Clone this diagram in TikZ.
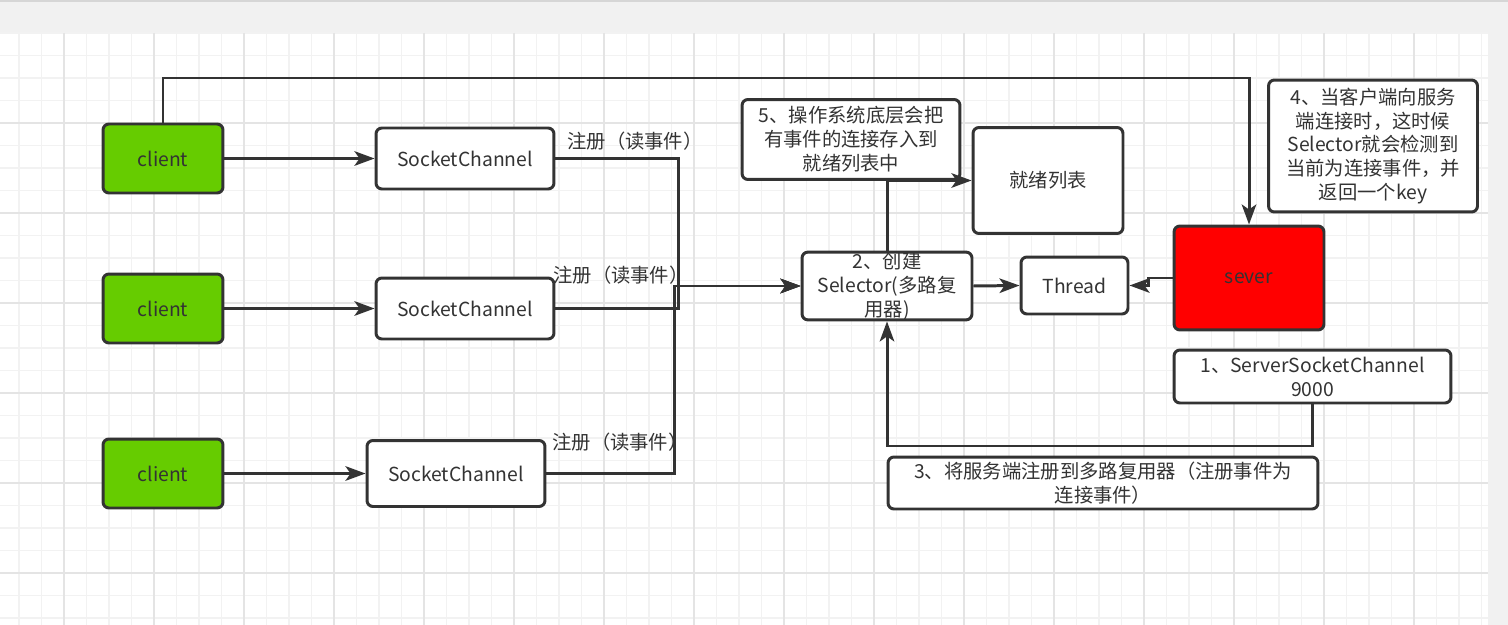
\documentclass[tikz,border=0pt]{standalone}
\usepackage{fontspec}
\setmainfont{Noto Sans CJK SC}
\usepackage{xcolor}
\usepackage{tikz}
\usetikzlibrary{arrows.meta}
\usetikzlibrary{calc}
\usetikzlibrary{positioning}

\definecolor{linec}{HTML}{333333}
\definecolor{cgreen}{HTML}{66CC00}
\definecolor{sred}{HTML}{FF0000}
\definecolor{gridmin}{HTML}{F2F2F2}
\definecolor{gridmaj}{HTML}{E4E4E4}
\definecolor{pagegray}{HTML}{F1F1F1}
\definecolor{topline}{HTML}{D6D6D6}
\newcommand{\dfont}{\fontsize{11pt}{13.6pt}\selectfont}

\begin{document}
\begin{tikzpicture}[x=0.02cm, y=-0.02cm,
    box/.style={draw=linec, line width=1.7pt, rounded corners=3.4pt, fill=white,
                text=linec, font=\dfont, align=center, inner sep=0pt},
    client/.style={box, fill=cgreen, minimum width=2.4cm, minimum height=1.38cm},
    chan/.style={box, minimum width=3.56cm, minimum height=1.22cm},
    flow/.style={draw=linec, line width=1.7pt,
                 -{Stealth[length=4mm, width=2.9mm, inset=1mm]}},
    lbl/.style={text=linec, font=\dfont, anchor=west, inner sep=0pt},
    gmin/.style={draw=gridmin, line width=0.6pt},
    gmaj/.style={draw=gridmaj, line width=0.6pt}]

  \useasboundingbox (0,0) rectangle (1508,625);
  \fill[pagegray] (0,0) rectangle (1508,625);
  \fill[topline] (0,0) rectangle (1508,2);
  \fill[white] (0,33) rectangle (1488,625);
  \foreach \gx in {19,41.5,...,1487}
    \draw[gmin] (\gx,33) -- (\gx,625);
  \foreach \gy in {33,55.5,...,625}
    \draw[gmin] (0,\gy) -- (1488,\gy);
  \foreach \gx in {64,154,...,1487}
    \draw[gmaj] (\gx,33) -- (\gx,625);
  \foreach \gy in {123,213,...,625}
    \draw[gmaj] (0,\gy) -- (1488,\gy);

  \draw (163,158.5)  node[client]                                    (c1) {client};
  \draw (163,308.5)  node[client]                                    (c2) {client};
  \draw (163,473.5)  node[client]                                    (c3) {client};
  \draw (465,158.5)  node[chan]                                      (sc1) {SocketChannel};
  \draw (465,308.5)  node[chan]                                      (sc2) {SocketChannel};
  \draw (456,473.5)  node[chan, minimum height=1.32cm]               (sc3) {SocketChannel};
  \draw (887,286)    node[box, minimum width=3.4cm, minimum height=1.32cm]  (sel) {2、创建\\Selector(多路复\\用器)};
  \draw (851,139.5)  node[box, minimum width=4.36cm, minimum height=1.6cm]  (n5) {5、操作系统底层会把\\有事件的连接存入到\\就绪列表中};
  \draw (1048,180.5) node[box, minimum width=3cm, minimum height=2.12cm]    (ready) {就绪列表};
  \draw (1074.5,285.5) node[box, minimum width=2.14cm, minimum height=1.14cm] (thr) {Thread};
  \draw (1249,278)   node[box, fill=sred, minimum width=3cm, minimum height=2.08cm] (sv) {sever};
  \draw (1373,146)   node[box, minimum width=4.18cm, minimum height=2.64cm] (n4) {4、当客户端向服务\\端连接时，这时候\\Selector就会检测到\\当前为连接事件，并\\返回一个key};
  \draw (1312.5,376.5) node[box, minimum width=5.54cm, minimum height=1.06cm] (ssc) {1、ServerSocketChannel\\9000};
  \draw (1103,483)   node[box, minimum width=8.6cm, minimum height=1.04cm]  (n3) {3、将服务端注册到多路复用器（注册事件为\\连接事件）};

  \draw (567,141) node[lbl] (l1) {注册（读事件）};
  \draw (553,275) node[lbl] (l2) {注册（读事件）};
  \draw (552,442) node[lbl] (l3) {注册（读事件）};

  \coordinate (jA) at (678,286);
  \coordinate (jB) at (674,286);
  \coordinate (top) at (163,78);
  \coordinate (back) at (1312.5,446);

  \draw[flow] (c1) -- (sc1);
  \draw[flow] (c2) -- (sc2);
  \draw[flow] (c3) -- (sc3);
  \draw[flow] (sc1.east) -| (jA) -- (sel.west);
  \draw[flow] (sc2.east) -| (jA) -- (sel.west);
  \draw[flow] (sc3.east) -| (jB) -- (sel.west);
  \draw[flow] (c1.north) -- (top) -| (sv.north);
  \draw[flow] (sel.north) |- (ready.west);
  \draw[flow] (sel.east) -- (thr.west);
  \draw[flow] (sv.west) -- ++(-24,0) |- (thr.east);
  \draw[flow] (ssc.south) -- (back) -| (sel.south);

\end{tikzpicture}
\end{document}
